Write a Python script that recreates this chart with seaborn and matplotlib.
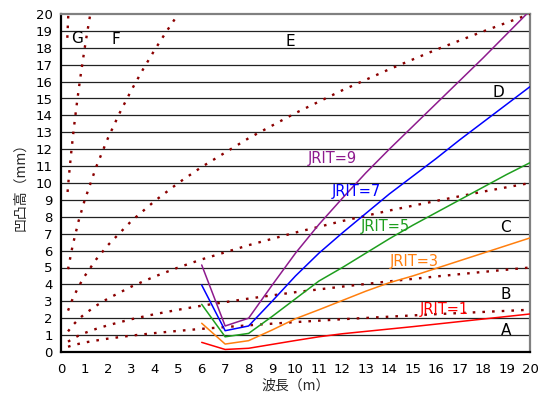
import matplotlib
matplotlib.use("Agg")
import matplotlib.pyplot as plt
import seaborn as sns
import pandas as pd

# --- JRIT lines (wavelength m, height mm) ---
jrit_x = [6, 7, 8, 9, 10, 11, 12, 13, 14, 15, 16, 17, 18, 19, 20]
jrit1 = [0.57, 0.15, 0.22, 0.45, 0.68, 0.90, 1.08, 1.22, 1.36, 1.50, 1.65, 1.80, 1.95, 2.10, 2.25]
jrit3 = [1.70, 0.47, 0.67, 1.30, 1.97, 2.50, 3.05, 3.60, 4.10, 4.50, 4.95, 5.40, 5.85, 6.30, 6.75]
jrit5 = [2.82, 0.90, 1.10, 2.10, 3.15, 4.20, 5.00, 5.85, 6.70, 7.50, 8.25, 9.00, 9.75, 10.50, 11.20]
jrit7 = [3.96, 1.26, 1.54, 3.00, 4.50, 5.85, 7.05, 8.20, 9.35, 10.40, 11.45, 12.55, 13.60, 14.65, 15.70]
jrit9 = [5.15, 1.54, 2.00, 3.95, 5.85, 7.55, 9.10, 10.60, 12.00, 13.35, 14.70, 16.05, 17.40, 18.80, 20.20]
jrit_names = ["JRIT=1", "JRIT=3", "JRIT=5", "JRIT=7", "JRIT=9"]
jrit_colors = ["#FF0000", "#FF7F0E", "#1E9E1E", "#0000FF", "#8E1B8E"]

# --- dotted reference curves A..G ---
abcd_x = [0.3, 0.5, 0.75, 1, 1.5, 2, 3, 4, 5, 6, 8, 10, 12, 14, 16, 18, 20]
curve_a = [0.31, 0.40, 0.48, 0.56, 0.68, 0.79, 0.97, 1.12, 1.25, 1.37, 1.58, 1.77, 1.94, 2.09, 2.24, 2.37, 2.50]
curve_b = [0.61, 0.79, 0.97, 1.12, 1.37, 1.58, 1.94, 2.24, 2.50, 2.74, 3.16, 3.54, 3.87, 4.18, 4.47, 4.74, 5.00]
curve_c = [1.22, 1.58, 1.94, 2.24, 2.74, 3.16, 3.87, 4.47, 5.00, 5.48, 6.32, 7.07, 7.75, 8.37, 8.94, 9.49, 10.00]
curve_d = [2.45, 3.16, 3.87, 4.47, 5.48, 6.32, 7.75, 8.94, 10.00, 10.95, 12.65, 14.14, 15.49, 16.73, 17.89, 18.97, 20.00]
e_x = [0.3, 0.5, 0.75, 1, 1.5, 2, 2.5, 3, 3.5, 4, 4.5, 5]
curve_e = [4.90, 6.32, 7.75, 8.94, 10.95, 12.65, 14.14, 15.49, 16.73, 17.89, 18.97, 20.00]
f_x = [0.28, 0.35, 0.45, 0.55, 0.65, 0.75, 0.85, 1.0, 1.1, 1.25]
curve_f = [9.47, 10.58, 12.00, 13.27, 14.42, 15.49, 16.49, 17.89, 18.76, 20.00]
g_x = [0.27, 0.29, 0.31]
curve_g = [18.59, 19.27, 19.92]

curve_labels = ["A", "B", "C", "D", "E", "F", "G"]
curve_label_x = [19.0, 18.95, 18.95, 18.65, 9.8, 2.35, 0.67]
curve_label_y = [1.3, 3.4, 7.35, 15.35, 18.4, 18.5, 18.55]

jrit_label_x = [15.3, 14.0, 12.8, 11.55, 10.5]
jrit_label_y = [2.5, 5.35, 7.4, 9.5, 11.45]

sns.set_style("white")
plt.rcParams["font.family"] = ["DejaVu Sans"]

fig = plt.figure(figsize=(5.38, 3.97), dpi=100)
ax = fig.add_axes([61 / 538, 1 - 352 / 397, 469 / 538, 338 / 397])

# dotted curves
dot_color = "#8B0000"
for xs, ys in [(abcd_x, curve_a), (abcd_x, curve_b), (abcd_x, curve_c), (abcd_x, curve_d),
               (e_x, curve_e), (f_x, curve_f), (g_x, curve_g)]:
    sns.lineplot(x=xs, y=ys, ax=ax, color=dot_color, linewidth=1.7,
                 linestyle=(0, (1.1, 3.0)), sort=False, estimator=None, zorder=3)

# JRIT lines
rows = []
for name, vals in zip(jrit_names, [jrit1, jrit3, jrit5, jrit7, jrit9]):
    for xv, yv in zip(jrit_x, vals):
        rows.append({"x": xv, "y": yv, "series": name})
df = pd.DataFrame(rows)
sns.lineplot(data=df, x="x", y="y", hue="series", palette=dict(zip(jrit_names, jrit_colors)),
             ax=ax, linewidth=1.1, sort=False, estimator=None, legend=False, zorder=4)

for name, col, lx, ly in zip(jrit_names, jrit_colors, jrit_label_x, jrit_label_y):
    ax.text(lx, ly, name, color=col, fontsize=10.5, ha="left", va="center", zorder=5)

for lab, lx, ly in zip(curve_labels, curve_label_x, curve_label_y):
    ax.text(lx, ly, lab, color="black", fontsize=11, ha="center", va="center", zorder=5)

ax.set_xlim(0, 20)
ax.set_ylim(0, 20)
ax.set_xticks(range(0, 21))
ax.set_yticks(range(0, 21))
for yv in range(1, 20):
    ax.axhline(yv, color="#222222", linewidth=0.9, zorder=1)

ax.tick_params(axis="both", direction="in", length=3, width=1, labelsize=9.5,
               colors="black", pad=6)
ax.tick_params(axis="x", pad=8)

for side in ["left", "bottom"]:
    ax.spines[side].set_color("black")
    ax.spines[side].set_linewidth(1.6)
for side in ["top", "right"]:
    ax.spines[side].set_color("#808080")
    ax.spines[side].set_linewidth(1.6)

cjk = ["Noto Sans CJK JP", "DejaVu Sans"]
ax.set_xlabel("波長（m）", fontsize=10, family=cjk, labelpad=2)
ax.set_ylabel("凹凸高（mm）", fontsize=10, family=cjk, labelpad=6)

fig.savefig("out.png", dpi=100)
